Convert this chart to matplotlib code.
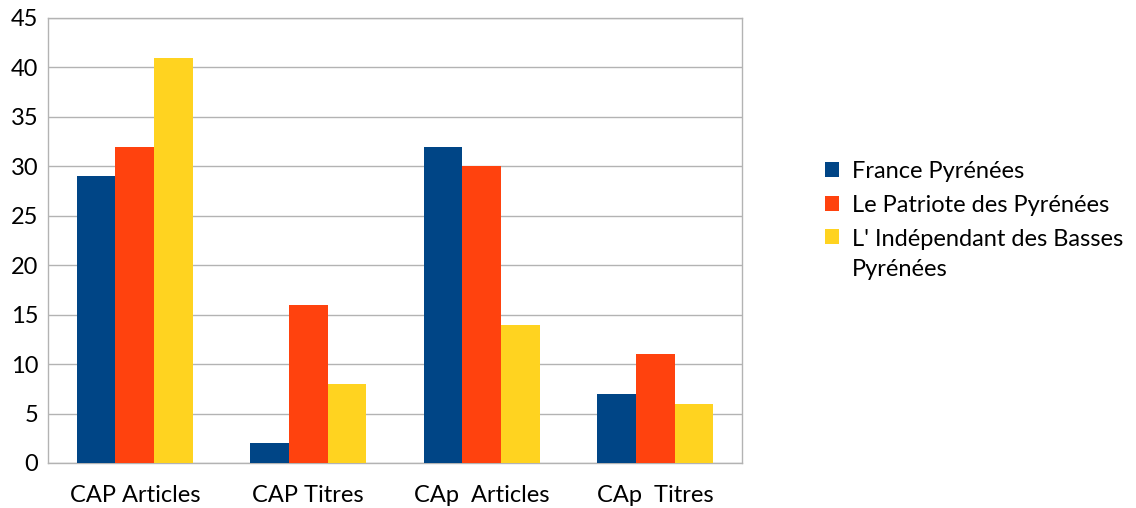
import matplotlib
matplotlib.use("Agg")
import matplotlib.pyplot as plt
import numpy as np

categories = ["CAP Articles", "CAP Titres", "CAp  Articles", "CAp  Titres"]
series_names = ["France Pyrénées", "Le Patriote des Pyrénées",
                "L' Indépendant des Basses\nPyrénées"]
france = [29, 2, 32, 7]
patriote = [32, 16, 30, 11]
independant = [41, 8, 14, 6]
colors = ["#004586", "#ff420e", "#ffd320"]

plt.rcParams["font.family"] = ["Lato", "DejaVu Sans"]

fig = plt.figure(figsize=(11.36, 5.08), dpi=100)
ax = fig.add_axes([0.0423, 0.0886, 0.6109, 0.876])

x = np.arange(len(categories))
w = 0.223
for i, vals in enumerate([france, patriote, independant]):
    ax.bar(x + (i - 1) * w, vals, width=w, color=colors[i],
           label=series_names[i], zorder=3)

ax.set_xlim(-0.5, 3.5)
ax.set_ylim(0, 45)
ax.set_yticks(range(0, 46, 5))
ax.set_xticks(x)
ax.set_xticklabels(categories)
ax.yaxis.grid(True, color="#b3b3b3", linewidth=1, zorder=0)
for s in ax.spines.values():
    s.set_color("#b3b3b3")
    s.set_linewidth(1)
ax.tick_params(axis="both", length=0, labelsize=17, colors="black")
ax.tick_params(axis="x", pad=16)
ax.tick_params(axis="y", pad=7)

leg = fig.legend(loc="upper left", bbox_to_anchor=(0.716, 0.707), frameon=False,
                 fontsize=17, handlelength=0.6, handleheight=0.6,
                 handletextpad=0.55, labelspacing=0.55, borderpad=0)
for t in leg.get_texts():
    t.set_linespacing(1.55)
# square of the wrapped entry sits next to its first line
p = leg.legend_handles[2]
p.set_y(p.get_y() + 13)

fig.savefig("out.png", dpi=100)
